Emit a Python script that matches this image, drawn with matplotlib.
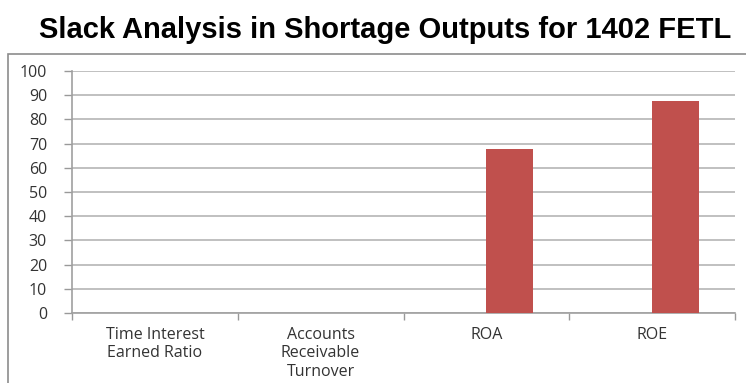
import matplotlib.pyplot as plt
import matplotlib.patches as mpatches
import numpy as np

categories = ['Time Interest\nEarned Ratio', 'Accounts\nReceivable\nTurnover', 'ROA', 'ROE']
series_1 = [0, 0, 0, 0]          # empty first series (Excel clustered slot)
series_2 = [0, 0, 67.8, 87.5]
yticks = [0, 10, 20, 30, 40, 50, 60, 70, 80, 90, 100]

W, H = 746, 383
fig = plt.figure(figsize=(W / 100, H / 100), dpi=100)

# outer chart frame (cut off at right and bottom)
fig.patches.append(mpatches.Rectangle((8 / W, -0.05), 1.0, (H - 54) / H + 0.05,
                                      transform=fig.transFigure, fill=False,
                                      edgecolor='#8c8c8c', linewidth=1.2))

fig.text(385 / W, 1 - 30 / H, 'Slack Analysis in Shortage Outputs for 1402 FETL',
         ha='center', va='center', fontsize=21, fontweight='bold',
         family='Liberation Sans', color='black')

ax = fig.add_axes([72 / W, 1 - 313 / H, (735 - 72) / W, (313 - 71) / H])
x = np.arange(len(categories))
bw = 0.28
ax.bar(x - bw / 2, series_1, width=bw, color='#4F81BD', zorder=3)
ax.bar(x + bw / 2, series_2, width=bw, color='#C0504D', zorder=3)

ax.set_xlim(-0.5, len(categories) - 0.5)
ax.set_ylim(0, 100)
ax.set_yticks(yticks)
ax.yaxis.grid(True, color='#b5b5b5', linewidth=1.2, zorder=0)
ax.set_xticks(x)
ax.set_xticklabels(categories, family='Open Sans', fontsize=11.5, color='#333333',
                   linespacing=1.2)
ax.set_xticks(np.arange(-0.5, len(categories)), minor=True)
ax.tick_params(axis='x', which='major', length=0, pad=10)
ax.tick_params(axis='x', which='minor', length=5, color='#999999', width=1)
ax.tick_params(axis='y', length=6, color='#999999', width=1, pad=12,
               labelsize=11.5, labelcolor='#333333')
for lab in ax.get_yticklabels():
    lab.set_family('Open Sans')

for s in ['top', 'right']:
    ax.spines[s].set_visible(False)
ax.spines['left'].set_color('#a0a0a0')
ax.spines['bottom'].set_color('#a0a0a0')
ax.spines['left'].set_linewidth(1.2)
ax.spines['bottom'].set_linewidth(1.2)

fig.savefig('out.png', dpi=100)
